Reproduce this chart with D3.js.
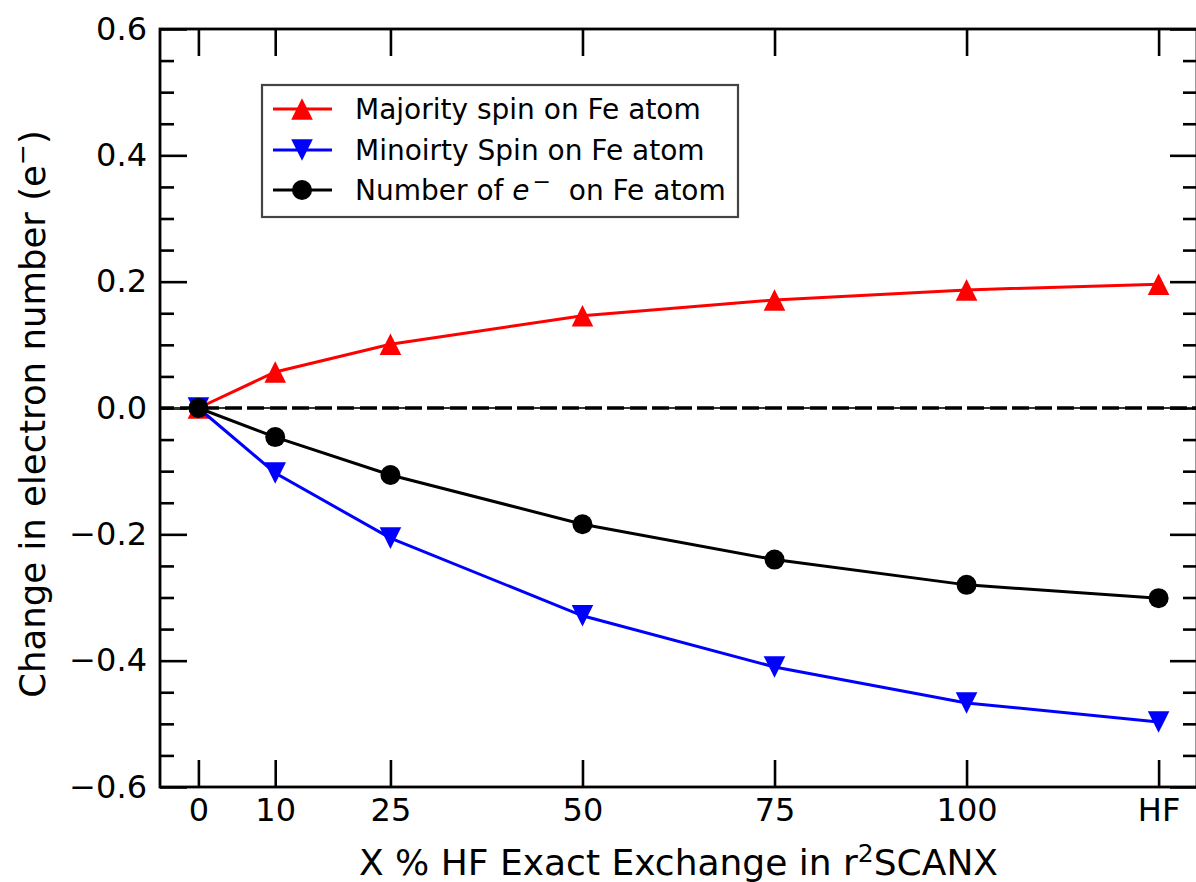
<!DOCTYPE html>
<html>
<head>
<meta charset="utf-8">
<script src="https://cdn.jsdelivr.net/npm/d3@7"></script>
<style>
  html, body { margin: 0; padding: 0; background: #fff; }
  svg { display: block; font-family: "DejaVu Sans", sans-serif; }
</style>
</head>
<body>
<div id="chart"></div>
<script>
// x categories (HF plotted as if 125 %)
const categories = ['0', '10', '25', '50', '75', '100', 'HF'];
const xValues = [0, 10, 25, 50, 75, 100, 125];

const majoritySpin = [0, 0.057, 0.101, 0.146, 0.171, 0.187, 0.196];
const minoritySpin = [0, -0.103, -0.206, -0.329, -0.410, -0.467, -0.497];
const electronCount = [0, -0.046, -0.106, -0.184, -0.240, -0.280, -0.301];

const yMajorTicks = [-0.6, -0.4, -0.2, 0, 0.2, 0.4, 0.6];

const series = [
  { name: 'Majority spin on Fe atom', values: majoritySpin, color: '#ff0000', marker: 'up' },
  { name: 'Minoirty Spin on Fe atom', values: minoritySpin, color: '#0000ff', marker: 'down' },
  { name: 'Number of e on Fe atom', values: electronCount, color: '#000000', marker: 'circle' },
];

const W = 1196, H = 882;
const margin = { left: 160, top: 29, right: 1197, bottom: 787 };

const svg = d3.select('#chart').append('svg')
  .attr('width', W)
  .attr('height', H);

const x = d3.scaleLinear().domain([-5, 130]).range([margin.left, margin.right]);
const y = d3.scaleLinear().domain([-0.6, 0.6]).range([margin.bottom, margin.top]);

const MAJOR = 27, MINOR = 14;
const fmtY = (d) => d3.format('.1f')(d).replace('-', '\u2212');
const yMinorTicks = d3.range(-0.6, 0.6001, 0.05).filter((v) => !yMajorTicks.some((m) => Math.abs(m - v) < 1e-6));

function styleAxis(g, fontSize) {
  g.select('.domain').remove();
  g.selectAll('.tick line').attr('stroke', '#000').attr('stroke-width', 2.6);
  g.selectAll('.tick text')
    .attr('fill', '#000')
    .style('font-family', '"DejaVu Sans", sans-serif')
    .style('font-size', fontSize + 'px');
}

// left axis
svg.append('g')
  .attr('transform', `translate(${margin.left},0)`)
  .call(d3.axisLeft(y).tickValues(yMajorTicks).tickFormat(fmtY).tickSizeInner(-MAJOR).tickSizeOuter(0).tickPadding(13))
  .call((g) => styleAxis(g, 32));
svg.append('g')
  .attr('transform', `translate(${margin.left},0)`)
  .call(d3.axisLeft(y).tickValues(yMinorTicks).tickFormat('').tickSizeInner(-MINOR).tickSizeOuter(0))
  .call((g) => styleAxis(g, 32));

// right axis (ticks only)
svg.append('g')
  .attr('transform', `translate(${margin.right},0)`)
  .call(d3.axisRight(y).tickValues(yMajorTicks).tickFormat('').tickSizeInner(-MAJOR).tickSizeOuter(0))
  .call((g) => styleAxis(g, 32));
svg.append('g')
  .attr('transform', `translate(${margin.right},0)`)
  .call(d3.axisRight(y).tickValues(yMinorTicks).tickFormat('').tickSizeInner(-MINOR).tickSizeOuter(0))
  .call((g) => styleAxis(g, 32));

// bottom axis
svg.append('g')
  .attr('transform', `translate(0,${margin.bottom})`)
  .call(d3.axisBottom(x).tickValues(xValues).tickFormat((d, i) => categories[i]).tickSizeInner(-MAJOR).tickSizeOuter(0).tickPadding(11))
  .call((g) => styleAxis(g, 32));

// top axis (ticks only)
svg.append('g')
  .attr('transform', `translate(0,${margin.top})`)
  .call(d3.axisTop(x).tickValues(xValues).tickFormat('').tickSizeInner(-MAJOR).tickSizeOuter(0))
  .call((g) => styleAxis(g, 32));

// spines
svg.append('rect')
  .attr('x', margin.left)
  .attr('y', margin.top)
  .attr('width', margin.right - margin.left)
  .attr('height', margin.bottom - margin.top)
  .attr('fill', 'none')
  .attr('stroke', '#000')
  .attr('stroke-width', 2.8);

// zero reference line
const zeroY = y(0);
svg.append('line')
  .attr('x1', margin.left).attr('x2', margin.right)
  .attr('y1', zeroY).attr('y2', zeroY)
  .attr('stroke', '#333').attr('stroke-width', 2)
  .attr('stroke-dasharray', '40,5')
  .attr('stroke-dashoffset', 3);
svg.append('line')
  .attr('x1', margin.left).attr('x2', margin.right)
  .attr('y1', zeroY).attr('y2', zeroY)
  .attr('stroke', '#000').attr('stroke-width', 3.4)
  .attr('stroke-dasharray', '17,6,17,5')
  .attr('stroke-dashoffset', 3);

const TRI = 10.8;
function markerPath(type) {
  if (type === 'up') return `M0,${-TRI}L${TRI},${TRI}L${-TRI},${TRI}Z`;
  if (type === 'down') return `M0,${TRI}L${TRI},${-TRI}L${-TRI},${-TRI}Z`;
  return null;
}

function drawMarker(g, type, color) {
  if (type === 'circle') {
    g.append('circle').attr('r', 10).attr('fill', color);
  } else {
    g.append('path').attr('d', markerPath(type)).attr('fill', color);
  }
}

const line = d3.line()
  .x((d) => x(d.x))
  .y((d) => y(d.y));

series.forEach((s) => {
  const pts = xValues.map((xv, i) => ({ x: xv, y: s.values[i] }));
  const g = svg.append('g').attr('class', 'series');
  g.append('path')
    .datum(pts)
    .attr('d', line)
    .attr('fill', 'none')
    .attr('stroke', s.color)
    .attr('stroke-width', 3);
  g.selectAll('.pt')
    .data(pts)
    .enter()
    .append('g')
    .attr('class', 'pt')
    .attr('transform', (d) => `translate(${x(d.x)},${y(d.y)})`)
    .each(function () { drawMarker(d3.select(this), s.marker, s.color); });
});

// legend
const legend = svg.append('g').attr('transform', 'translate(262,85)');
legend.append('rect')
  .attr('width', 476).attr('height', 132)
  .attr('fill', '#fff')
  .attr('stroke', '#444')
  .attr('stroke-width', 2.2);

const rowY = [24, 65, 105];
series.forEach((s, i) => {
  const row = legend.append('g').attr('transform', `translate(0,${rowY[i]})`);
  row.append('line')
    .attr('x1', 11).attr('x2', 70)
    .attr('stroke', s.color).attr('stroke-width', 3);
  drawMarker(row.append('g').attr('transform', 'translate(40,0)'), s.marker, s.color);
  const t = row.append('text')
    .attr('x', 93).attr('y', 10)
    .style('font-size', '28px')
    .attr('fill', '#000');
  if (s.marker === 'circle') {
    t.append('tspan').text('Number of ');
    t.append('tspan').style('font-style', 'italic').text('e');
    t.append('tspan').attr('dx', 3).attr('dy', -11).style('font-size', '22px').text('\u2212');
    t.append('tspan').attr('dy', 11).text('\u00a0\u00a0on Fe atom');
  } else {
    t.text(s.name);
  }
});

// axis titles
const xt = svg.append('text')
  .attr('x', (margin.left + margin.right) / 2)
  .attr('y', 875)
  .attr('text-anchor', 'middle')
  .style('font-size', '36px')
  .attr('fill', '#000');
xt.append('tspan').text('X % HF Exact Exchange in r');
xt.append('tspan').attr('dy', -13).style('font-size', '25px').text('2');
xt.append('tspan').attr('dy', 13).text('SCANX');

const yt = svg.append('text')
  .attr('transform', `translate(45,${(margin.top + margin.bottom) / 2 + 6}) rotate(-90)`)
  .attr('text-anchor', 'middle')
  .style('font-size', '35.5px')
  .attr('fill', '#000');
yt.append('tspan').text('Change in electron number (e');
yt.append('tspan').attr('dy', -14).style('font-size', '25px').text('\u2212');
yt.append('tspan').attr('dy', 14).text(')');
</script>
</body>
</html>
